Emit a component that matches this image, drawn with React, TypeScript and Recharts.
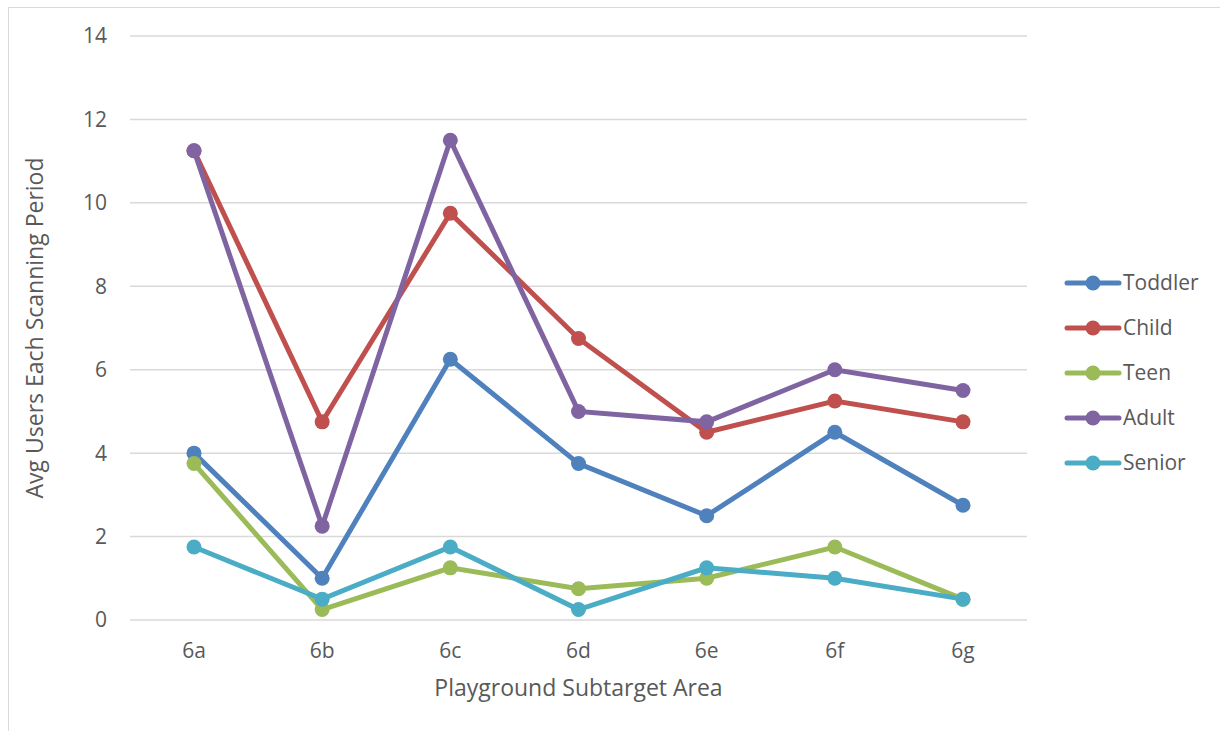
import React from "react";
import { LineChart, Line, XAxis, YAxis, CartesianGrid } from "recharts";

// Playground subtarget areas along the x-axis
const areas = ["6a", "6b", "6c", "6d", "6e", "6f", "6g"];

// Average users per scanning period, by age group
const toddler = [4, 1, 6.25, 3.75, 2.5, 4.5, 2.75];
const child = [11.25, 4.75, 9.75, 6.75, 4.5, 5.25, 4.75];
const teen = [3.75, 0.25, 1.25, 0.75, 1.0, 1.75, 0.5];
const adult = [11.25, 2.25, 11.5, 5.0, 4.75, 6.0, 5.5];
const senior = [1.75, 0.5, 1.75, 0.25, 1.25, 1.0, 0.5];

const yTicks = [0, 2, 4, 6, 8, 10, 12, 14];

const seriesList = [
  { key: "Toddler", values: toddler, color: "#4f81bd" },
  { key: "Child", values: child, color: "#c0504d" },
  { key: "Teen", values: teen, color: "#9bbb59" },
  { key: "Adult", values: adult, color: "#8064a2" },
  { key: "Senior", values: senior, color: "#4bacc6" },
];

const data = areas.map((area, i) => {
  const row: Record<string, string | number> = { area };
  seriesList.forEach((s) => {
    row[s.key] = s.values[i];
  });
  return row;
});

const FONT = "'Open Sans', 'Liberation Sans', sans-serif";
const TEXT = "#595959";

const LegendBlock = () => (
  <div style={{ fontFamily: FONT }}>
    {seriesList.map((s) => (
      <div
        key={s.key}
        style={{ display: "flex", alignItems: "center", height: 45 }}
      >
        <svg width={58} height={20} style={{ display: "block" }}>
          <line
            x1={3}
            y1={10}
            x2={55}
            y2={10}
            stroke={s.color}
            strokeWidth={5}
            strokeLinecap="round"
          />
          <circle cx={29} cy={10} r={7.5} fill={s.color} />
        </svg>
        <span
          style={{ fontSize: 21, color: TEXT, marginLeft: 1, lineHeight: 1 }}
        >
          {s.key}
        </span>
      </div>
    ))}
  </div>
);

export default function App() {
  return (
    <div
      style={{
        position: "absolute",
        left: 0,
        top: 0,
        width: 1220,
        height: 731,
        background: "#ffffff",
        overflow: "hidden",
      }}
    >
      <div
        style={{
          position: "absolute",
          left: 8,
          top: 7,
          width: 1240,
          height: 760,
          border: "1.5px solid #d9d9d9",
        }}
      />
      <div style={{ position: "absolute", left: 0, top: 0 }}>
        <LineChart
          width={1220}
          height={731}
          data={data}
          margin={{ top: 36, right: 193, bottom: 31, left: 10 }}
        >
          <CartesianGrid
            vertical={false}
            stroke="#d9d9d9"
            strokeWidth={1.5}
          />
          <XAxis
            dataKey="area"
            axisLine={false}
            tickLine={false}
            tickSize={6}
            tickMargin={17}
            height={80}
            padding={{ left: 64, right: 64 }}
            tick={{ fill: TEXT, fontSize: 21, fontFamily: FONT }}
            label={{
              value: "Playground Subtarget Area",
              position: "insideBottom",
              offset: 4,
              fill: TEXT,
              fontSize: 23,
              fontFamily: FONT,
            }}
          />
          <YAxis
            domain={[0, 14]}
            ticks={yTicks}
            width={120}
            axisLine={false}
            tickLine={false}
            tickSize={6}
            tickMargin={17}
            tick={{ fill: TEXT, fontSize: 21, fontFamily: FONT }}
            label={{
              value: "Avg Users Each Scanning Period",
              angle: -90,
              position: "insideLeft",
              offset: 25,
              fill: TEXT,
              fontSize: 23,
              fontFamily: FONT,
              style: { textAnchor: "middle" },
            }}
          />
          {seriesList.map((s) => (
            <Line
              key={s.key}
              type="linear"
              dataKey={s.key}
              stroke={s.color}
              strokeWidth={5}
              dot={{ r: 7.5, fill: s.color, stroke: s.color, strokeWidth: 0 }}
              activeDot={false}
              isAnimationActive={false}
            />
          ))}
        </LineChart>
      </div>
      <div style={{ position: "absolute", left: 1064, top: 260, width: 150 }}>
        <LegendBlock />
      </div>
    </div>
  );
}
